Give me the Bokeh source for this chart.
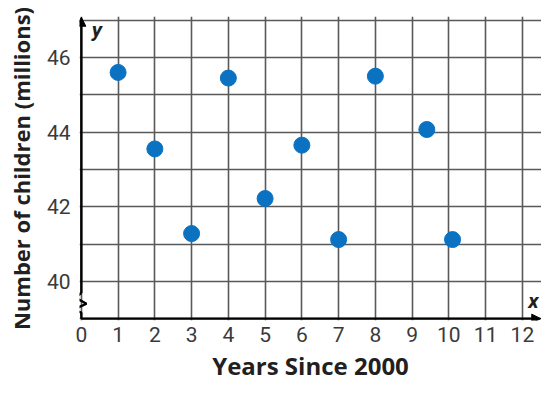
from bokeh.plotting import figure
from bokeh.models import Range1d, FixedTicker, Arrow, NormalHead, ColumnDataSource
from bokeh.core.properties import value
from bokeh.embed import file_html
from bokeh.resources import INLINE

# data
years = [1, 2, 3, 4, 5, 6, 7, 8, 9.4, 10.1]
children = [45.6, 43.55, 41.28, 45.45, 42.22, 43.65, 41.12, 45.5, 44.07, 41.12]
x_ticks = list(range(0, 13))
y_ticks = [40, 42, 44, 46]
grid_x = list(range(0, 13))
grid_y = list(range(39, 48))
x_title = "Years Since 2000"
y_title = "Number of children (millions)"

p = figure(width=541, height=384, output_backend="svg", toolbar_location=None,
           x_range=Range1d(-0.05, 12.52), y_range=Range1d(38.95, 47.1),
           min_border_left=79, min_border_right=0, min_border_top=16, min_border_bottom=64)
p.outline_line_color = None
p.background_fill_color = "white"

# grid
p.xgrid.ticker = FixedTicker(ticks=grid_x)
p.ygrid.ticker = FixedTicker(ticks=grid_y)
p.xgrid.bounds = (39, 47)
p.ygrid.bounds = (0, 13)
for g in (p.xgrid, p.ygrid):
    g.grid_line_color = "#595959"
    g.grid_line_width = 1.6
    g.grid_line_alpha = 1.0

# axes
p.xaxis.ticker = FixedTicker(ticks=x_ticks)
p.yaxis.ticker = FixedTicker(ticks=y_ticks)
for ax in (p.xaxis[0], p.yaxis[0]):
    ax.axis_line_color = None
    ax.major_tick_line_color = None
    ax.minor_tick_line_color = None
    ax.major_tick_out = 0
    ax.major_tick_in = 0
    ax.minor_tick_out = 0
    ax.minor_tick_in = 0
    ax.major_label_text_font = "Roboto"
    ax.major_label_text_font_size = "21px"
    ax.major_label_text_color = "#3a3a3a"
    ax.axis_label_text_font = "Open Sans"
    ax.axis_label_text_font_style = "bold"
    ax.axis_label_text_color = "#231f20"
p.xaxis.axis_label_text_font_size = "24px"
p.yaxis.axis_label_text_font_size = "22px"
p.xaxis.major_label_standoff = 6
p.xaxis.axis_label_standoff = 4
p.yaxis.major_label_standoff = 9
p.yaxis.axis_label_standoff = 8
p.xaxis.axis_label = x_title
p.yaxis.axis_label = y_title

# axis lines with break and arrows
zig_x = [0, 0, -0.21, 0.14, -0.16, 0, 0]
zig_y = [39, 39.16, 39.24, 39.40, 39.56, 39.69, 39.69]
p.line(zig_x, zig_y, line_color="black", line_width=2.4)
p.add_layout(Arrow(end=NormalHead(size=9, fill_color="black", line_color="black"),
                   x_start=0, y_start=39.69, x_end=0, y_end=47.08,
                   line_color="black", line_width=2.4))
p.add_layout(Arrow(end=NormalHead(size=9, fill_color="black", line_color="black"),
                   x_start=0, y_start=39, x_end=12.5, y_end=39,
                   line_color="black", line_width=2.4))

p.text(x=[12.3], y=[39.48], text=["x"], text_font=value("Roboto"),
       text_font_style="bold italic", text_font_size="21px", text_color="#231f20",
       text_align="center", text_baseline="middle")
p.text(x=[0.42], y=[46.75], text=["y"], text_font=value("Roboto"),
       text_font_style="bold italic", text_font_size="21px", text_color="#231f20",
       text_align="center", text_baseline="middle")

src = ColumnDataSource(dict(x=years, y=children))
p.scatter("x", "y", source=src, size=16, fill_color="#0b72c2", line_color="#0b72c2")

open("out.html", "w").write(file_html(p, INLINE))
